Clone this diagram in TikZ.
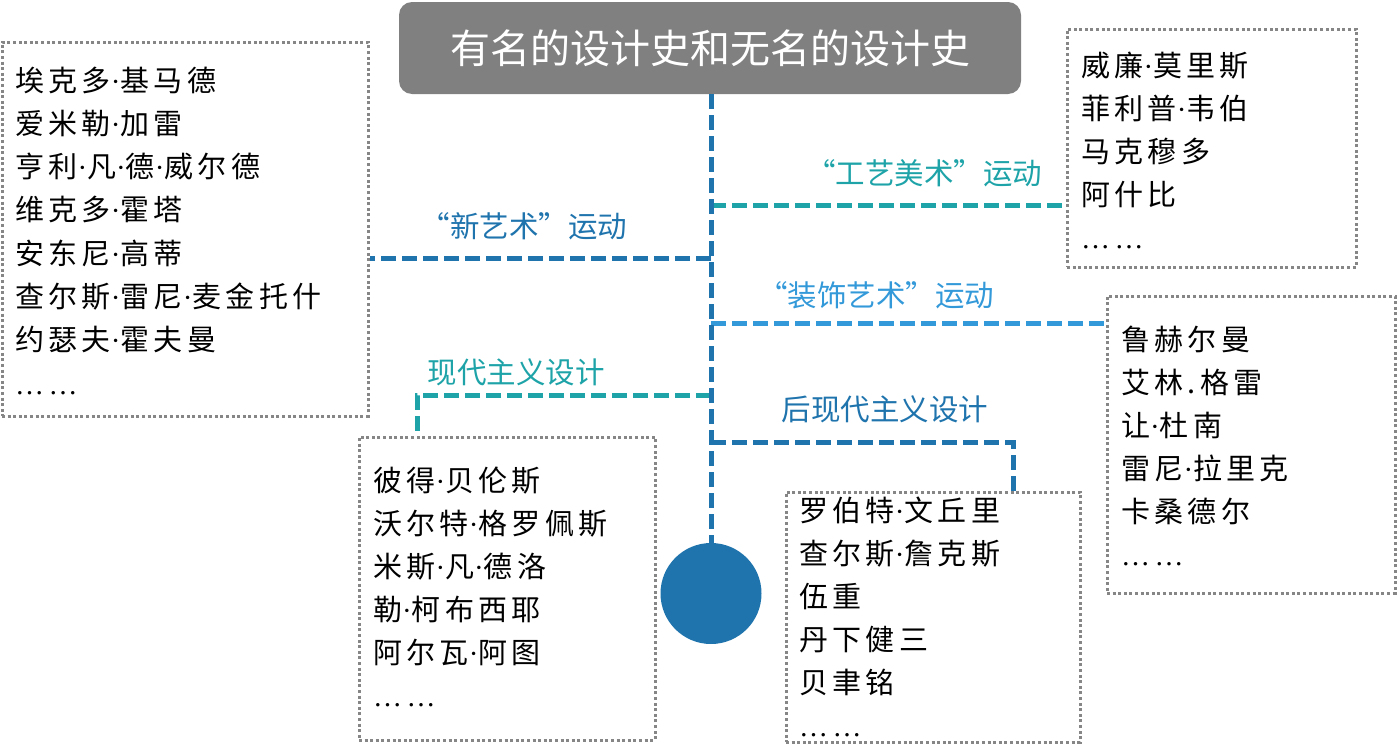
\documentclass[tikz,border=0pt]{standalone}
\usepackage{fontspec}
\newfontfamily\song[LetterSpace=15]{Noto Sans CJK SC}
\newfontfamily\titlefont{Noto Sans CJK SC}
\newfontfamily\hei{Noto Sans CJK SC}
\newfontfamily\tnr[LetterSpace=15]{Liberation Serif}
\newcommand\md{{\tnr ·}}
\newcommand\myel{{\tnr ……}}
\definecolor{cdark}{HTML}{1F74AD}
\definecolor{cteal}{HTML}{1DA3A8}
\definecolor{clight}{HTML}{3399D9}
\definecolor{cgray}{HTML}{808080}
\definecolor{cdot}{HTML}{868686}
\tikzset{
  titlebox/.style={fill=cgray, rounded corners=13pt, minimum width=622pt, minimum height=92pt, inner sep=0pt, text=white, font=\titlefont\fontsize{40}{40}\selectfont},
  namebox/.style={draw=cdot, line width=3pt, dash pattern=on 3pt off 2.6pt, inner sep=0pt},
  nm/.style={inner sep=0pt, anchor=base west, font=\song\fontsize{29}{29}\selectfont},
  lbl/.style={inner sep=0pt, font=\hei\fontsize{29.5}{29.5}\selectfont},
  conn/.style={line width=5pt, dash pattern=on 15pt off 6pt},
}
\begin{document}
\begin{tikzpicture}[x=1pt,y=-1pt]
\useasboundingbox (0,0) rectangle (1397,744);
% title and end circle
\node[titlebox] (title) at (710,48) {有名的设计史和无名的设计史};
\node[circle, fill=cdark, minimum size=101pt, inner sep=0pt] (circ) at (711,593.5) {};
% boxes
\node[namebox, minimum width=366pt, minimum height=374pt] (b1) at (185,229) {};
\node[namebox, minimum width=289pt, minimum height=238pt] (b2) at (1211.5,148) {};
\node[namebox, minimum width=288pt, minimum height=297pt] (b3) at (1251,444.5) {};
\node[namebox, minimum width=296pt, minimum height=303pt] (b4) at (507,588.5) {};
\node[namebox, minimum width=294pt, minimum height=250pt] (b5) at (933,617) {};
% names
\foreach \t [count=\i from 0] in {埃克多\md 基马德, 爱米勒\md 加雷, 亨利\md 凡\md 德\md 威尔德, 维克多\md 霍塔, 安东尼\md 高蒂, 查尔斯\md 雷尼\md 麦金托什, 约瑟夫\md 霍夫曼, \myel}
  \node[nm] (a\i) at (15,91+43.3*\i) {\t};
\foreach \t [count=\i from 0] in {威廉\md 莫里斯, 菲利普\md 韦伯, 马克穆多, 阿什比, \myel}
  \node[nm] (c\i) at (1081,76+43*\i) {\t};
\foreach \t [count=\i from 0] in {鲁赫尔曼, 艾林.格雷, 让\md 杜南, 雷尼\md 拉里克, 卡桑德尔, \myel}
  \node[nm] (d\i) at (1121,350+43*\i) {\t};
\foreach \t [count=\i from 0] in {彼得\md 贝伦斯, 沃尔特\md 格罗佩斯, 米斯\md 凡\md 德洛, 勒\md 柯布西耶, 阿尔瓦\md 阿图, \myel}
  \node[nm] (e\i) at (373,491+43*\i) {\t};
\foreach \t [count=\i from 0] in {罗伯特\md 文丘里, 查尔斯\md 詹克斯, 伍重, 丹下健三, 贝聿铭, \myel}
  \node[nm] (f\i) at (799,521+43*\i) {\t};
% labels
\node[lbl, text=cdark] (l1) at (524,226) {“新艺术”运动};
\node[lbl, text=cteal] (l2) at (924,173) {“工艺美术”运动};
\node[lbl, text=clight] (l3) at (876,295) {“装饰艺术”运动};
\node[lbl, text=cteal] (l4) at (516,372) {现代主义设计};
\node[lbl, text=cdark] (l5) at (885,409) {后现代主义设计};
% junctions
\coordinate (j1) at (711,258);
\coordinate (j2) at (711,205);
\coordinate (j3) at (711,323);
\coordinate (j4) at (711,395);
\coordinate (k4) at (417,395);
\coordinate (j5) at (711,442);
\coordinate (k5) at (1013,442);
% connectors
\draw[conn, cdark] (j1) -- (j1 -| b1.east);
\draw[conn, cteal] (j2) -- (j2 -| b2.west);
\draw[conn, clight] (j3) -- (j3 -| b3.west);
\draw[conn, cteal] (j4) -- (k4) -- (k4 |- b4.north);
\draw[conn, cdark] (j5) -- (k5) -- (k5 |- b5.north);
% spine
\draw[conn, cdark] (title.south -| circ.north) -- (circ.north);
\end{tikzpicture}
\end{document}
